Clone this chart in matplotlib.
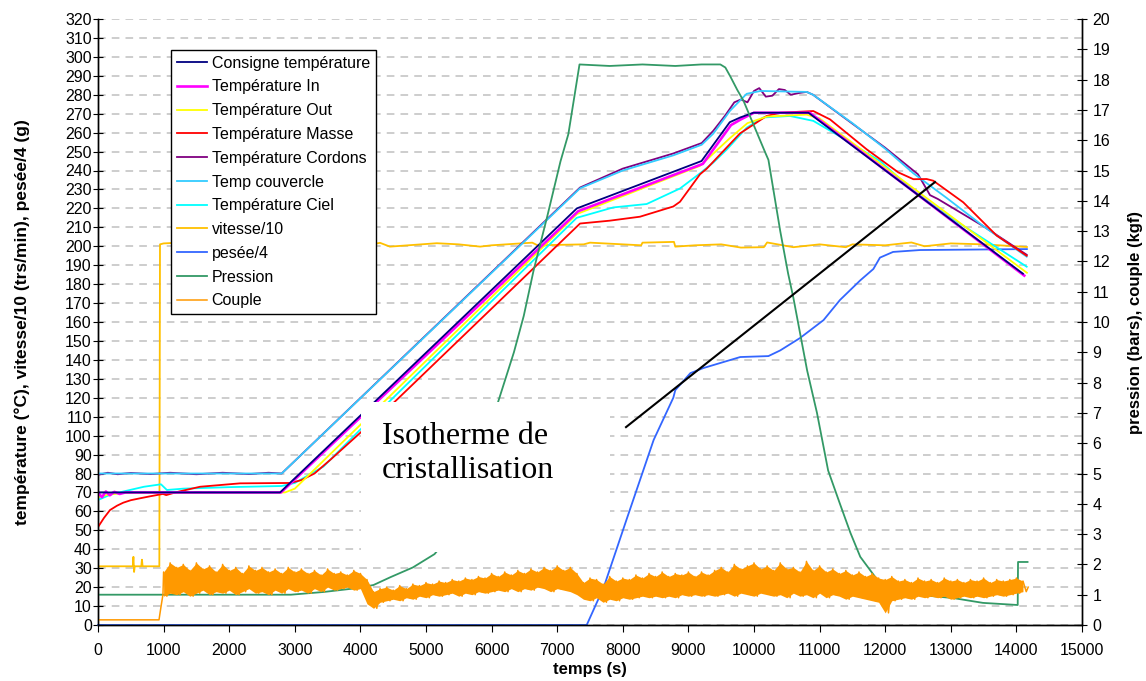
import numpy as np
import matplotlib
matplotlib.use("Agg")
import matplotlib.pyplot as plt
from matplotlib.patches import Rectangle

plt.rcParams['font.family'] = ['Liberation Sans', 'DejaVu Sans']

# ---------------- data ----------------
cons_t = [0, 2775, 7300, 9200, 9630, 9790, 9990, 10830, 14100]
cons_v = [70, 70, 220, 245, 265.5, 268, 270.5, 270.5, 185.5]

in_t = [0, 60, 120, 180, 250, 330, 420, 2790, 7320, 9220, 9650, 9800, 10000, 10850, 14120]
in_v = [70, 67.5, 70.5, 68.5, 70.3, 69.2, 70, 70, 218.5, 243.5, 264, 267, 270.5, 270.5, 184.5]

out_t = [0, 150, 400, 2850, 3000, 7300, 8000, 9180, 9630, 9900, 10200, 10800, 11000, 14160]
out_v = [67.5, 68.8, 69.8, 70, 72, 217, 226.5, 242.5, 257, 265, 268.5, 269.5, 267.5, 186]

masse_t = [0, 90, 183, 290, 386, 500, 640, 800, 990, 1040, 1200, 1555, 2165, 2930, 3100, 3300,
           3550, 4527, 7348, 7800, 8262, 8770, 8872, 9177, 9280, 9787, 10193, 10396, 10904, 11158,
           11717, 12200, 12430, 12632, 12733, 13190, 13700, 14157]
masse_v = [51.7, 56.5, 60.7, 63, 64.6, 65.9, 66.9, 68, 69.2, 68.6, 70.2, 73.0, 74.8, 75, 76.5, 80,
           87.5, 118, 212, 213.5, 215.6, 221, 223.5, 238, 241, 259.6, 268.8, 270.5, 271.4, 267,
           251.2, 239, 235.4, 235.5, 234.6, 223.2, 205.6, 195]

cord_t = [0, 150, 300, 500, 800, 1100, 1500, 1900, 2300, 2600, 2800, 7348, 8000, 8770,
          9203, 9380, 9560, 9700, 9800, 9900, 10000, 10080, 10180, 10280, 10380, 10470, 10560,
          10700, 10803, 10900, 12000, 12500, 12683, 12800, 13500, 14157]
cord_v = [79.3, 80.4, 79.6, 80.3, 79.7, 80.4, 79.6, 80.4, 79.7, 80.4, 80, 231, 241, 249,
          254.5, 261, 269, 276, 277.5, 276, 282, 283.5, 279, 279.5, 283, 282.5, 280, 281, 281.5,
          280, 252, 238, 227, 225, 210.5, 195.5]

couv_t = [0, 2800, 7348, 8000, 8770, 9203, 9380, 9634, 9888, 10100,
          10803, 10900, 11500, 12000, 12430, 12937, 13500, 14157]
couv_v = [80, 80, 230.6, 240, 248, 253.6, 259.5, 271.5, 280.5, 282,
          281.5, 280, 265, 251.5, 238.5, 225.5, 210.5, 194.5]

ciel_t = [0, 200, 450, 700, 900, 960, 1050, 1300, 2000, 2800, 3000, 3435, 3994, 4426, 7297, 7855,
          8364, 8872, 9177, 9380, 9583, 9888, 10142, 10548, 10904, 11260, 11920, 12430, 12937, 14157]
ciel_v = [66, 69, 71, 73, 74, 74.3, 71.3, 72, 72.8, 73.4, 75, 83.6, 103, 117.5, 215, 220.5,
          222.3, 230.5, 238.5, 244.2, 251, 262.6, 268, 268.8, 266.2, 259, 245, 229.3, 216.5, 189.2]

vit_t = [0, 530, 540, 550, 560, 660, 670, 680, 935, 945, 1000, 1300, 1600, 2000, 2050, 2600, 3000,
         3500, 4000, 4300, 4450, 5165, 5500, 5825, 6000, 6620, 6700, 7404, 7500, 8280, 8300, 8780,
         8800, 9100, 9500, 9800, 10150, 10200, 10600, 11000, 11400, 11500, 12000, 12400, 12600,
         13000, 13500, 14160]
vit_v = [31, 31, 36, 28, 31, 31, 34.5, 31, 31, 201, 201.5, 202, 201.5, 201, 200, 200.5, 200,
         200.5, 200, 201.8, 199.8, 201.6, 201, 199.8, 200.5, 201.9, 200.5, 201, 201.9, 200.5,
         201.9, 202.3, 199.8, 200.5, 201, 199.3, 199.5, 202, 199.5, 201, 199.5, 201, 200.5, 202,
         200, 201.5, 201, 199.6]

pes_t = [0, 7450, 7710, 8070, 8470, 8770, 8800, 9030, 9230, 9500, 9790, 10220, 10400, 10700,
         11060, 11310, 11620, 11820, 11920, 12120, 12530, 14160]
pes_v = [0, 0, 20, 57, 97.7, 120, 124, 133, 135.7, 138.5, 141.5, 142, 145, 151.5, 161, 171.6,
         182, 188, 194, 197, 198, 198.5]

pr_t = [0, 2940, 3440, 3960, 4200, 4460, 4800, 5130, 5500, 5800, 6090, 6340, 6490, 6640, 6850,
        7050, 7170, 7340, 7800, 8300, 8800, 9200, 9487, 9563, 9640, 9745, 9840, 10170, 10220,
        10400, 10520, 10600, 10810, 10960, 11130, 11310, 11470, 11620, 11880, 12075, 12530,
        13035, 13490, 14020, 14025, 14170]
pr_v = [1.0, 1.0, 1.09, 1.22, 1.32, 1.58, 1.9, 2.34, 3.3, 4.8, 7.3, 9.0, 10.2, 11.7, 13.5, 15.3,
        16.2, 18.5, 18.45, 18.5, 18.45, 18.5, 18.5, 18.4, 18.1, 17.66, 17.3, 15.6, 15.35, 13.0,
        11.6, 10.8, 8.4, 7.0, 5.1, 4.0, 3.04, 2.25, 1.49, 1.09, 0.99, 0.89, 0.73, 0.66, 2.08, 2.08]

# couple: start segment, then upper / lower envelope of the noisy signal every 100 s (1000..14100)
couple_pre_t = [0, 930, 960, 990]
couple_pre_v = [0.17, 0.17, 0.6, 1.0]
couple_hi = [1.75, 2.05, 1.9, 2.0, 1.8, 2.05, 1.85, 1.95, 1.75, 2.0, 1.8, 1.9, 1.7, 1.95, 1.8, 1.9,
             1.75, 1.85, 1.7, 1.9, 1.75, 1.85, 1.7, 1.8, 1.65, 1.85, 1.7, 1.75, 1.65, 1.8, 1.7,
             1.5, 1.1, 1.2, 1.25, 1.15, 1.3, 1.2, 1.35, 1.3, 1.4, 1.35, 1.45, 1.4, 1.5, 1.45, 1.55,
             1.5, 1.6, 1.55, 1.7, 1.6, 1.75, 1.65, 1.8, 1.7, 1.85, 1.75, 1.9, 1.8, 1.95, 1.8, 1.9, 1.7,
             1.4, 1.55, 1.5, 1.35, 1.6, 1.45, 1.55, 1.5, 1.65, 1.55, 1.7, 1.6, 1.75, 1.6, 1.7, 1.65,
             1.75, 1.6, 1.75, 1.65, 1.8,
             1.9, 1.75, 2.0, 1.85, 1.95, 2.05, 1.85, 1.95, 1.8, 2.05, 1.85, 1.9, 1.75, 2.1, 1.8, 1.95,
             1.75, 1.85, 1.7, 1.8, 1.65, 1.75, 1.6, 1.7, 1.55,
             1.5, 1.6, 1.45, 1.5, 1.4, 1.55, 1.45, 1.5, 1.4, 1.55, 1.45, 1.5, 1.4, 1.5, 1.45, 1.55,
             1.4, 1.5, 1.45, 1.5, 1.55, 1.45]
couple_lo = [0.95, 1.05, 1.0, 1.1, 0.95, 1.05, 1.15, 1.0, 1.1, 1.05, 1.15, 1.0, 1.1, 1.2, 1.05, 1.1,
             1.0, 1.15, 1.05, 1.2, 1.1, 1.15, 1.05, 1.2, 1.1, 1.25, 1.15, 1.2, 1.25, 1.15, 1.2,
             0.7, 0.55, 0.75, 0.8, 0.85, 0.8, 0.9, 0.85, 0.95, 0.9, 1.0, 0.95, 1.0, 1.05, 0.95, 1.05,
             1.0, 1.1, 1.05, 1.1, 1.15, 1.1, 1.2, 1.1, 1.2, 1.15, 1.25, 1.2, 1.1, 1.2, 1.15, 1.1, 1.0,
             0.85, 0.8, 0.9, 0.75, 0.85, 0.8, 0.9, 0.85, 0.9, 0.95, 0.9, 0.95, 0.9, 0.95, 0.9, 1.0,
             0.95, 1.0, 0.95, 1.0, 0.95,
             1.0, 1.05, 0.95, 1.05, 1.0, 0.95, 1.05, 1.0, 0.95, 1.0, 0.9, 1.05, 0.95, 1.0, 0.9, 1.05,
             0.9, 1.0, 0.95, 0.85, 0.95, 0.9, 0.85, 0.8, 0.75,
             0.4, 0.8, 0.85, 0.9, 0.85, 0.95, 0.9, 0.95, 0.9, 0.95, 0.85, 0.9, 0.95, 0.9, 0.95, 0.9,
             0.95, 1.0, 0.95, 1.0, 1.05, 1.1]
couple_start = 1000
couple_step = 100
couple_end_t = [14180]
couple_end_v = [1.25]

iso_t = [8049, 12759]
iso_v = [104.5, 233.9]

x_ticks = list(range(0, 15001, 1000))
y1_ticks = list(range(0, 321, 10))
y2_ticks = list(range(0, 21, 1))

# ---------------- figure ----------------
fig = plt.figure(figsize=(11.46, 6.81), dpi=100)
ax1 = fig.add_axes([98 / 1146, 1 - 625 / 681, 984 / 1146, 606 / 681])
ax2 = ax1.twinx()

lw = 1.3
C_NAVY, C_MAG, C_YEL, C_RED = '#000080', '#FF00FF', '#FFFF00', '#FF0000'
C_PUR, C_SKY, C_CYAN = '#800080', '#33CCFF', '#00FFFF'
C_VIT, C_PES, C_PR, C_CPL = '#FFC000', '#3366FF', '#339966', '#FF9900'

h_pes, = ax1.plot(pes_t, pes_v, color=C_PES, lw=lw, label='pesée/4', clip_on=False, zorder=2)
h_vit, = ax1.plot(vit_t, vit_v, color=C_VIT, lw=lw, label='vitesse/10', zorder=2)
h_cord, = ax1.plot(cord_t, cord_v, color=C_PUR, lw=lw, label='Température Cordons', zorder=3)
h_couv, = ax1.plot(couv_t, couv_v, color=C_SKY, lw=lw, label='Temp couvercle', zorder=3)
h_ciel, = ax1.plot(ciel_t, ciel_v, color=C_CYAN, lw=lw, label='Température Ciel', zorder=3)
h_masse, = ax1.plot(masse_t, masse_v, color=C_RED, lw=lw, label='Température Masse', zorder=3)
h_out, = ax1.plot(out_t, out_v, color=C_YEL, lw=lw, label='Température Out', zorder=3)
h_in, = ax1.plot(in_t, in_v, color=C_MAG, lw=1.9, label='Température In', zorder=3)
h_cons, = ax1.plot(cons_t, cons_v, color=C_NAVY, lw=lw, label='Consigne température', zorder=3)

# couple: interleave upper/lower envelopes, plus filled band between them
env_t = [couple_start + i * couple_step for i in range(len(couple_hi))]
ct, cv = list(couple_pre_t), list(couple_pre_v)
for t0, hi, lo in zip(env_t, couple_hi, couple_lo):
    ct += [t0, t0 + couple_step / 2]
    cv += [hi, lo]
ct += couple_end_t
cv += couple_end_v
h_pr, = ax2.plot(pr_t, pr_v, color=C_PR, lw=lw, label='Pression', zorder=2)
ax2.fill_between(env_t, couple_lo, couple_hi, color=C_CPL, lw=0, zorder=2)
h_cpl, = ax2.plot(ct, cv, color=C_CPL, lw=1.1, label='Couple', zorder=2)

# isotherme line (left-axis units) drawn on top axes
ax2.plot(iso_t, iso_v, color='black', lw=1.5, transform=ax1.transData, zorder=4)

# white annotation box + text
ax2.add_patch(Rectangle((4009, 38.5), 7805 - 4009, 117.7 - 38.5, transform=ax1.transData,
                        facecolor='white', edgecolor='none', zorder=5))
ax2.text(4330, 90.5, 'Isotherme de\ncristallisation', transform=ax1.transData,
         fontsize=23, family=['Liberation Serif', 'DejaVu Serif'], va='center', ha='left',
         linespacing=1.2, zorder=6)

# axes settings
ax1.set_xlim(0, 15000)
ax1.set_ylim(0, 320)
ax2.set_ylim(0, 20)
ax1.set_xticks(x_ticks)
ax1.set_yticks(y1_ticks)
ax2.set_yticks(y2_ticks)
ax1.grid(axis='y', color='#C0C0C0', linestyle=(0, (5, 4)), lw=1.1)
ax1.set_axisbelow(True)

for ax in (ax1, ax2):
    ax.spines['top'].set_visible(False)
    for s in ax.spines.values():
        s.set_linewidth(1.0)
ax1.tick_params(axis='y', direction='inout', length=7, labelsize=11.5, pad=1)
ax2.tick_params(axis='y', direction='inout', length=7, labelsize=11.5, pad=4)
ax1.tick_params(axis='x', direction='out', length=5, labelsize=11.5, pad=8)

ax1.set_xlabel('temps (s)', fontsize=12, fontweight='bold')
ax1.xaxis.set_label_coords(0.5, -0.061)
ax1.set_ylabel('température (°C), vitesse/10 (trs/min), pesée/4 (g)', fontsize=12.5,
               fontweight='bold')
ax1.yaxis.set_label_coords(-0.069, 0.5)
ax2.set_ylabel('pression (bars), couple (kgf)', fontsize=12, fontweight='bold')
ax2.yaxis.set_label_coords(1.047, 0.5)

handles = [h_cons, h_in, h_out, h_masse, h_cord, h_couv, h_ciel, h_vit, h_pes, h_pr, h_cpl]
leg = ax2.legend(handles=handles, loc='upper left', bbox_to_anchor=(73 / 984, 575 / 606),
                 borderaxespad=0, fontsize=11.5, frameon=True, fancybox=False, framealpha=1,
                 edgecolor='black', handlelength=1.9, handletextpad=0.3, labelspacing=0.55,
                 borderpad=0.35)
leg.get_frame().set_linewidth(1.0)
leg.set_zorder(10)

fig.savefig('out.png', dpi=100, facecolor='white')
